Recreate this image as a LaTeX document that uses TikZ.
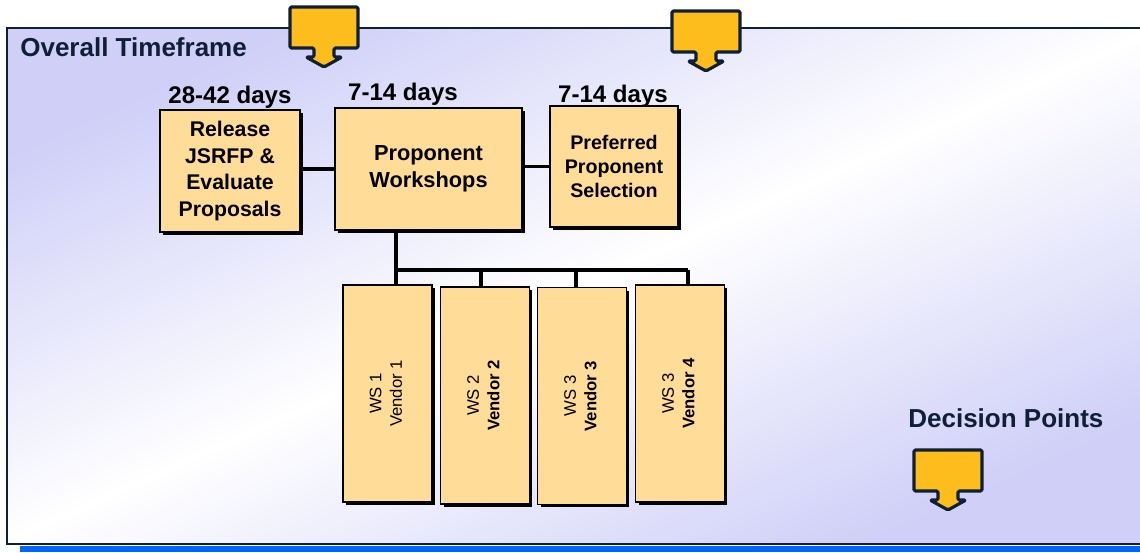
\documentclass[tikz,border=0pt]{standalone}
\usepackage{fontspec}
\setmainfont{Liberation Sans}
\usetikzlibrary{shadows}
\definecolor{navy}{HTML}{0F1F35}
\definecolor{lavender}{HTML}{CFCFF8}
\definecolor{boxfill}{HTML}{FFDD99}
\definecolor{flag}{HTML}{FDBD1C}
\definecolor{barblue}{HTML}{0066FF}

\begin{document}
\begin{tikzpicture}[x=0.02cm, y=-0.02cm,
        phase/.style={draw=black, line width=0.8pt, fill=boxfill, align=center, inner sep=0pt,
            drop shadow={shadow xshift=0.06cm, shadow yshift=-0.06cm, fill=black, opacity=1}},
        ws/.style={phase, minimum width=1.78cm, minimum height=4.34cm,
            font=\fontsize{9.5}{11.6}\selectfont},
        link/.style={line width=2.2pt},
        days/.style={anchor=base, inner sep=0pt, font=\fontsize{13.7}{16}\selectfont\bfseries},
        heading/.style={anchor=base west, inner sep=0pt, text=navy,
            font=\fontsize{14.8}{17}\selectfont\bfseries},
        flagbox/.style={draw=navy, fill=flag, line width=1.8pt, line join=round, rounded corners=0.8pt}]
        \useasboundingbox (0,0) rectangle (1140,552);
        \def\decpt(#1,#2){\draw[flagbox] (#1,#2) -- ++(68,0) -- ++(0,41) -- ++(-24,0) -- ++(0,9)
            -- ++(8,0) -- ++(-18,10) -- ++(-18,-10) -- ++(8,0) -- ++(0,-9) -- ++(-24,0) -- cycle;}
        % frame
        \shade[top color=lavender, bottom color=lavender, middle color=white, shading angle=24]
            (7,28) rectangle (1150,544);
        \draw[navy, line width=1.4pt] (7,28) rectangle (1150,544);
        \fill[barblue] (20,545.5) rectangle (1150,552);
        \node[heading] (overall) at (20,56) {Overall Timeframe};
        \node[heading] (decision) at (908,427) {Decision Points};
        % phases
        \node[phase, minimum width=2.8cm, minimum height=2.44cm, font=\fontsize{12.1}{15}\selectfont\bfseries]
            (release) at (230,171) {Release\\JSRFP \&\\Evaluate\\Proposals};
        \node[phase, minimum width=3.74cm, minimum height=2.44cm, font=\fontsize{12.4}{15.1}\selectfont\bfseries]
            (workshops) at (428.5,169) {Proponent\\Workshops};
        \node[phase, minimum width=2.56cm, minimum height=2.42cm, font=\fontsize{11.2}{13.4}\selectfont\bfseries]
            (selection) at (614,166.5) {Preferred\\Proponent\\Selection};
        \node[days] (reltime) at (230,103) {28-42 days};
        \node[days] (wstime) at (403,100) {7-14 days};
        \node[days] (seltime) at (613,102) {7-14 days};
        % vendor workshops
        \node[ws] (ws1) at (387.5,393.5) {\rotatebox{90}{\begin{tabular}{@{}c@{}}WS 1\\Vendor 1\end{tabular}}};
        \node[ws] (ws2) at (485,395.5) {\rotatebox{90}{\begin{tabular}{@{}c@{}}WS 2\\\textbf{Vendor 2}\end{tabular}}};
        \node[ws] (ws3) at (582,396) {\rotatebox{90}{\begin{tabular}{@{}c@{}}WS 3\\\textbf{Vendor 3}\end{tabular}}};
        \node[ws] (ws4) at (680,393.5) {\rotatebox{90}{\begin{tabular}{@{}c@{}}WS 3\\\textbf{Vendor 4}\end{tabular}}};
        % links
        \draw[link] (workshops.west) -- (workshops.west -| release.east);
        \draw[link] (selection.west) -- (selection.west -| workshops.east);
        \coordinate (j1) at (396,270);
        \coordinate (j2) at (481,270);
        \coordinate (j3) at (576,270);
        \coordinate (j4) at (688,270);
        \draw[link] (workshops.south -| j1) -- (j1) -- (ws1.north -| j1);
        \draw[link] (j1) -- (j4);
        \foreach \i in {2,3,4}
            \draw[link] (j\i) -- (ws\i.north -| j\i);
        % decision points
        \decpt(290,7)
        \decpt(672,11)
        \decpt(914,450)
    \end{tikzpicture}
\end{document}
